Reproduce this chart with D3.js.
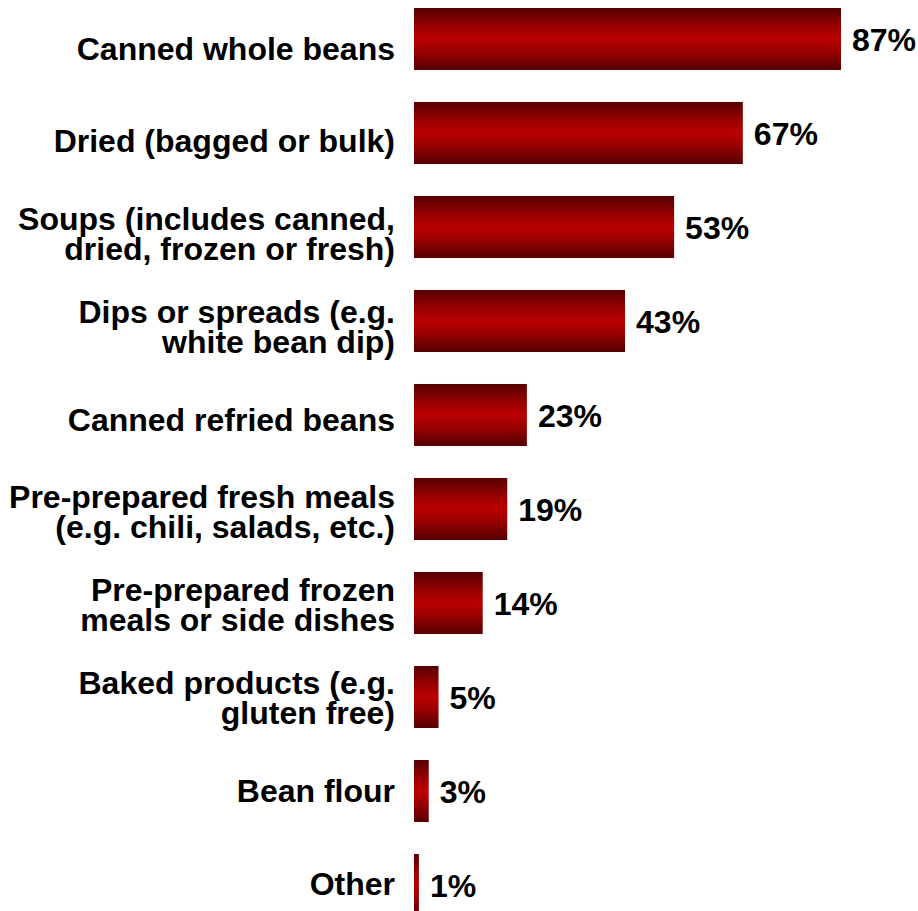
<html>
<head>
  <meta charset="UTF-8">
  <title>Bean products purchased</title>
  <style>
    body { margin: 0; background: #fff; font-family: "Liberation Sans", Arial, sans-serif; }
    svg { display: block; }
  </style>
</head>
<body>
<svg id="chart"></svg>
<script src="https://d3js.org/d3.v7.min.js"></script>
<script>
const width = 918, height = 911;

// data
const categories = [
  ["Canned whole beans"],
  ["Dried (bagged or bulk)"],
  ["Soups (includes canned,", "dried, frozen or fresh)"],
  ["Dips or spreads (e.g.", "white bean dip)"],
  ["Canned refried beans"],
  ["Pre-prepared fresh meals", "(e.g. chili, salads, etc.)"],
  ["Pre-prepared frozen", "meals or side dishes"],
  ["Baked products (e.g.", "gluten free)"],
  ["Bean flour"],
  ["Other"]
];
const values = [87, 67, 53, 43, 23, 19, 14, 5, 3, 1];

const svg = d3.select("#chart").attr("width", width).attr("height", height);

// vertical red gradient, dark at the edges
const grad = svg.append("defs").append("linearGradient")
  .attr("id", "barGrad")
  .attr("x1", 0).attr("y1", 0).attr("x2", 0).attr("y2", 1);
grad.append("stop").attr("offset", "0%").attr("stop-color", "#560000");
grad.append("stop").attr("offset", "30%").attr("stop-color", "#990000");
grad.append("stop").attr("offset", "50%").attr("stop-color", "#bb0000");
grad.append("stop").attr("offset", "70%").attr("stop-color", "#990000");
grad.append("stop").attr("offset", "100%").attr("stop-color", "#560000");

const idx = d3.range(values.length);

const y = d3.scaleBand()
  .domain(idx)
  .range([-8, 932])
  .paddingInner(0.34)
  .paddingOuter(0.17);

// labels sit on a slightly tighter pitch than the bars
const yLabel = d3.scalePoint()
  .domain(idx)
  .range([48, 883]);

const x = d3.scaleLinear()
  .domain([0, 100])
  .range([414, 414 + 490.8]);

const fontSize = 32, lineH = 30;

svg.append("g")
  .selectAll("rect")
  .data(values)
  .enter()
  .append("rect")
  .attr("x", x(0))
  .attr("y", (d, i) => y(i))
  .attr("width", d => x(d) - x(0))
  .attr("height", y.bandwidth())
  .attr("fill", "url(#barGrad)");

// value labels
svg.append("g")
  .selectAll("text")
  .data(values)
  .enter()
  .append("text")
  .attr("x", d => x(d) + 11)
  .attr("y", (d, i) => y(i) + y.bandwidth() / 2 + 11.5)
  .attr("font-size", fontSize + "px")
  .attr("font-weight", "bold")
  .attr("fill", "#000")
  .text(d => d + "%");

// category labels
const lab = svg.append("g")
  .selectAll("text")
  .data(categories)
  .enter()
  .append("text")
  .attr("text-anchor", "end")
  .attr("font-size", fontSize + "px")
  .attr("font-weight", "bold")
  .attr("fill", "#000");

lab.each(function(lines, i) {
  const t = d3.select(this);
  const base = yLabel(i) + 11.5 - (lines.length - 1) * lineH / 2;
  lines.forEach((ln, j) => {
    t.append("tspan")
      .attr("x", 395)
      .attr("y", base + j * lineH)
      .text(ln);
  });
});
</script>
</body>
</html>
